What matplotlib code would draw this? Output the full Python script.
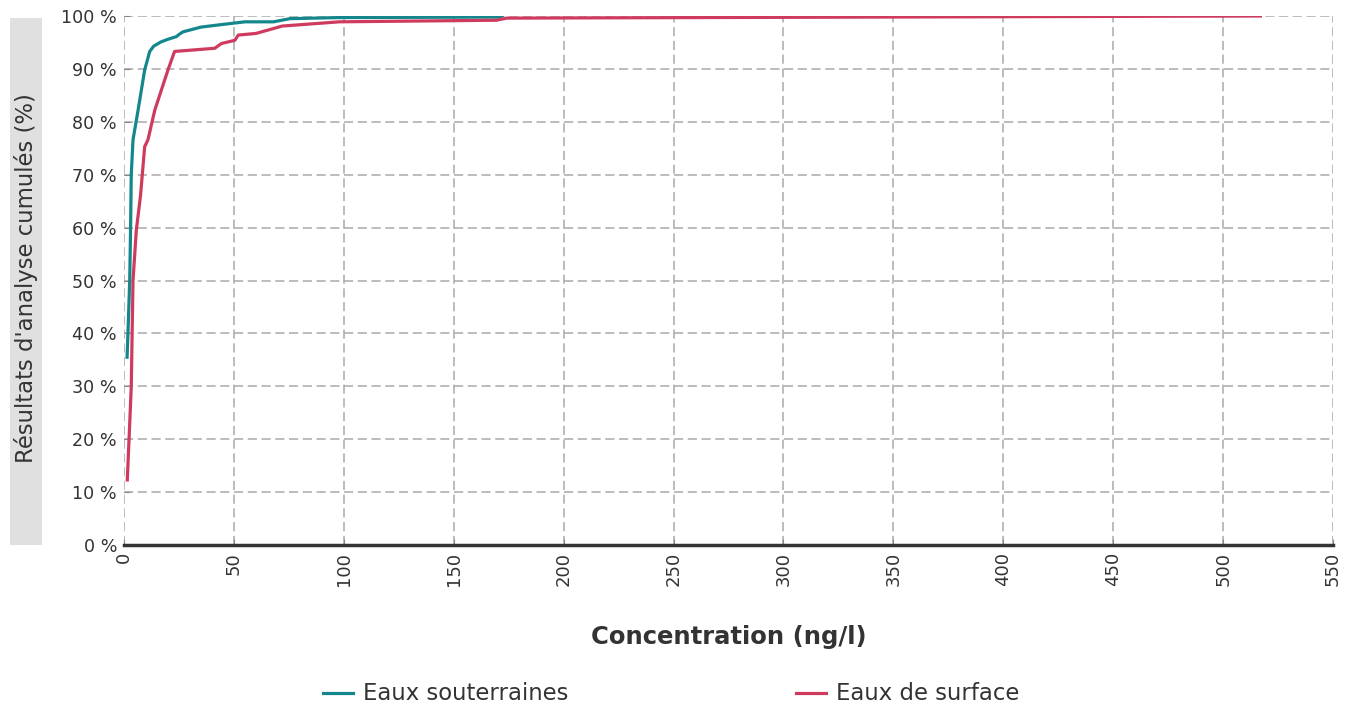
import matplotlib
matplotlib.use('Agg')
import matplotlib.pyplot as plt
from matplotlib.patches import Rectangle

plt.rcParams['font.family'] = 'DejaVu Sans'

# cumulative distribution (concentration ng/l, %)
conc_gw = [1.4, 1.8, 2.6, 3.0, 3.3, 4.1, 6.4, 9.4, 11.7, 13.5, 16.8, 20, 23.8, 25, 26.8,
           35, 42.8, 55, 68, 75.5, 98, 170, 172]
pct_gw = [35.5, 40, 50, 60, 70, 76.6, 82.2, 89.8, 93.3, 94.3, 95.1, 95.6, 96.1, 96.5, 97.0,
          97.9, 98.3, 98.9, 98.9, 99.5, 99.7, 99.8, 100]

conc_sw = [1.5, 2.5, 3.3, 4.1, 5.6, 7.5, 9.4, 10.9, 14, 17, 20, 23, 41.3, 44.3, 50.4, 52,
           60, 72, 98, 169.5, 174, 517]
pct_sw = [12.3, 22, 29.9, 50, 59.5, 66, 75.3, 76.6, 82.2, 86, 89.8, 93.3, 93.9, 94.8, 95.4, 96.4,
          96.7, 98.1, 98.9, 99.2, 99.6, 100]

xticks = list(range(0, 551, 50))
yticks = list(range(0, 101, 10))
ytick_labels = ['%d %%' % v for v in yticks]

teal = '#14878c'
red = '#cf3a5f'
txt = '#333333'

fig = plt.figure(figsize=(13.54, 7.09), dpi=100)
ax = fig.add_axes([124 / 1354, 1 - 545 / 709, 1209 / 1354, 529 / 709])

ax.plot(conc_gw, pct_gw, color=teal, lw=2.3, label='Eaux souterraines', zorder=3)
ax.plot(conc_sw, pct_sw, color=red, lw=2.3, label='Eaux de surface', zorder=3)

ax.set_xlim(0, 550)
ax.set_ylim(0, 100)
ax.set_xticks(xticks)
ax.set_xticklabels([str(v) for v in xticks], rotation=90, fontsize=13, color=txt)
ax.set_yticks(yticks)
ax.set_yticklabels(ytick_labels, fontsize=12.6, color=txt)
ax.grid(True, color='#aaaaaa', ls=(0, (6, 3)), lw=1.1)
ax.set_axisbelow(True)
for s in ('top', 'right', 'left'):
    ax.spines[s].set_visible(False)
ax.spines['bottom'].set_color('#333333')
ax.spines['bottom'].set_linewidth(2.5)
ax.spines['bottom'].set_zorder(4)
ax.tick_params(axis='both', length=4, color='#888888', direction='in', pad=5)

ax.set_xlabel('Concentration (ng/l)', fontsize=17.5, fontweight='bold', color=txt, labelpad=28)

# grey band behind the y label
fig.patches.append(Rectangle((10 / 1354, 1 - 545 / 709), 32 / 1354, 527 / 709,
                             transform=fig.transFigure, facecolor='#e0e0e0',
                             edgecolor='none', zorder=0))
fig.text(26 / 1354, 1 - 278 / 709, "Résultats d'analyse cumulés (%)", rotation=90,
         ha='center', va='center', fontsize=16.4, color=txt)

fig.legend(loc='center', bbox_to_anchor=(0.496, 1 - 694 / 709), ncol=2, frameon=False,
           fontsize=16.4, handlelength=1.3, handletextpad=0.45, columnspacing=10,
           labelcolor=txt)

fig.savefig('out.png', dpi=100)
